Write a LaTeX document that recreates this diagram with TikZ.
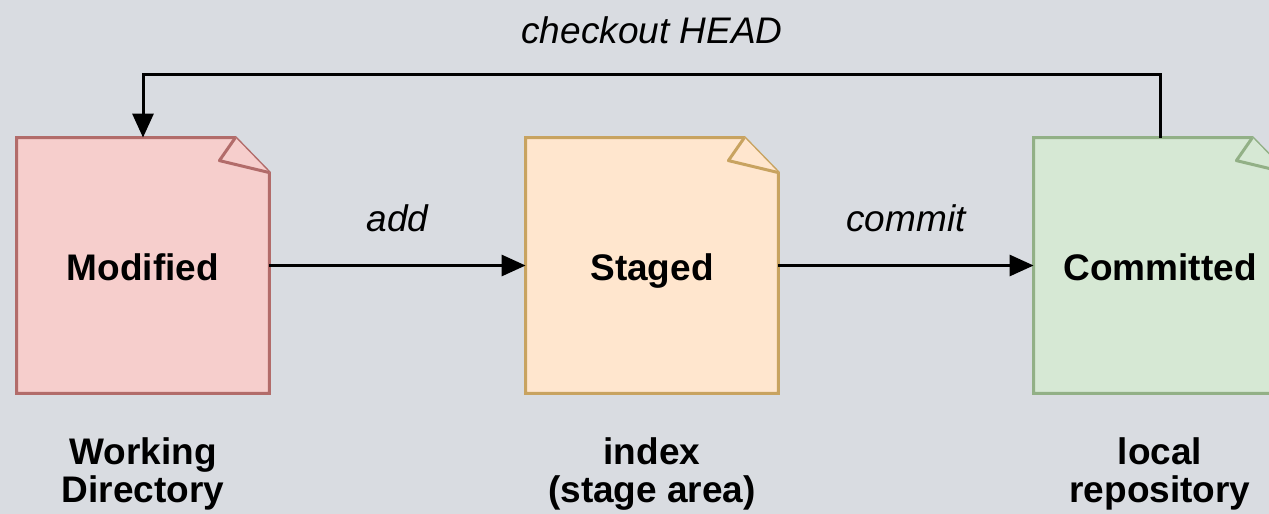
\documentclass[tikz,border=0pt]{standalone}
\usepackage{fontspec}
\setmainfont{Liberation Sans}
\usetikzlibrary{arrows.meta,backgrounds}

\definecolor{canvas}{RGB}{217,220,225}
\definecolor{redfill}{RGB}{246,206,204}
\definecolor{redline}{RGB}{178,108,106}
\definecolor{orangefill}{RGB}{255,230,206}
\definecolor{orangeline}{RGB}{200,163,96}
\definecolor{greenfill}{RGB}{214,232,212}
\definecolor{greenline}{RGB}{146,176,134}

\tikzset{
  statebox/.style={minimum width=126pt, minimum height=127.5pt, inner sep=0pt,
    text height=17pt, text depth=2.5pt,
    font=\fontsize{18.5}{22}\selectfont\bfseries},
  edgelabel/.style={font=\fontsize{18.5}{22}\selectfont\itshape},
  arealabel/.style={align=center, font=\fontsize{18.5}{19}\selectfont\bfseries},
  flow/.style={line width=1.5pt, -{Triangle[length=12pt,width=10.5pt]}},
}

% note outline with a folded top-right corner, drawn behind the node text
\newcommand\foldnote[3]{%
  \begin{scope}[on background layer]
    \filldraw[fill=#2, draw=#3, line width=1.5pt, line join=miter]
      (#1.south west) -- (#1.north west) -- ([xshift=-17pt]#1.north east)
      -- ([yshift=-17.5pt]#1.north east) -- (#1.south east) -- cycle;
    \filldraw[fill=#2, draw=#3, line width=1.5pt, line join=round]
      ([xshift=-17pt]#1.north east) -- ([xshift=-25pt,yshift=-11.5pt]#1.north east)
      -- ([yshift=-17.5pt]#1.north east);
  \end{scope}}

\begin{document}
\begin{tikzpicture}[x=0.5pt, y=-0.5pt]
  \begin{scope}[on background layer]
    \fill[canvas] (0,0) rectangle (1269,514);
  \end{scope}
  \useasboundingbox (0,0) rectangle (1269,514);
  \clip (0,0) rectangle (1269,514);

  \node[statebox] (modified)  at (143,265.5)  {Modified};
  \node[statebox] (staged)    at (652,265.5)  {Staged};
  \node[statebox] (committed) at (1160,265.5) {Committed};

  \foldnote{modified}{redfill}{redline}
  \foldnote{staged}{orangefill}{orangeline}
  \foldnote{committed}{greenfill}{greenline}

  \draw[flow] (modified.east) -- node[edgelabel, above=12.5pt] (addlbl) {add} (staged.west);
  \draw[flow] (staged.east) -- node[edgelabel, above=12.5pt] (commitlbl) {commit} (committed.west);

  \coordinate (turn) at ([yshift=31.5pt]committed.north);
  \draw[flow] (committed.north) -- (turn) -| (modified.north);
  \node[edgelabel] (checkoutlbl) at (652,30) {checkout HEAD};

  \node[arealabel] (wd)    at (143,474)  {Working\\Directory};
  \node[arealabel] (index) at (652,474)  {index\\(stage area)};
  \node[arealabel] (repo)  at (1160,474) {local\\repository};
\end{tikzpicture}
\end{document}
